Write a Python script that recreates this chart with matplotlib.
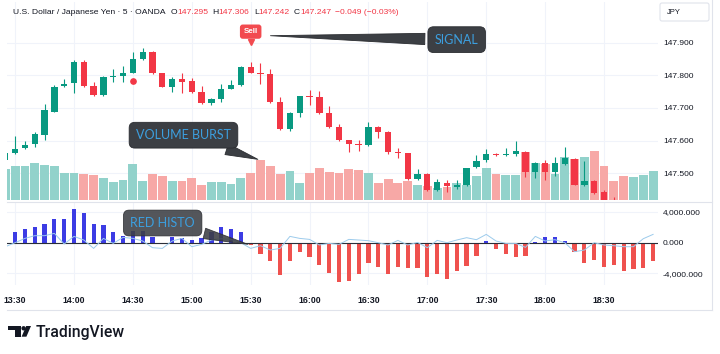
import matplotlib
matplotlib.use('Agg')
import matplotlib.pyplot as plt
import matplotlib.ticker as ticker
import matplotlib.transforms as mtransforms
from matplotlib.lines import Line2D
from matplotlib.patches import Polygon, Circle, FancyBboxPatch
import numpy as np

W, H = 720, 354

# USD/JPY 5-minute candles, first bar 13:25
opens = [147.539, 147.562, 147.576, 147.589, 147.618, 147.688, 147.767, 147.775, 147.840, 147.767,
         147.740, 147.795, 147.799, 147.808, 147.850, 147.871, 147.806, 147.763, 147.788, 147.783,
         147.750, 147.714, 147.727, 147.759, 147.770, 147.825, 147.806, 147.804, 147.717, 147.635,
         147.685, 147.737, 147.733, 147.683, 147.642, 147.601, 147.588, 147.585, 147.642, 147.627,
         147.563, 147.562, 147.481, 147.497, 147.448, 147.471, 147.458, 147.463, 147.518, 147.540,
         147.560, 147.555, 147.558, 147.566, 147.502, 147.532, 147.503, 147.528, 147.543, 147.462,
         147.475, 147.442, 147.400, 147.362, 147.300, 147.318, 147.310]
highs = [147.565, 147.615, 147.599, 147.627, 147.712, 147.770, 147.788, 147.846, 147.846, 147.780,
         147.797, 147.818, 147.829, 147.872, 147.885, 147.875, 147.808, 147.796, 147.806, 147.792,
         147.767, 147.730, 147.773, 147.786, 147.828, 147.842, 147.837, 147.818, 147.734, 147.687,
         147.738, 147.755, 147.752, 147.706, 147.650, 147.603, 147.603, 147.657, 147.645, 147.628,
         147.576, 147.563, 147.512, 147.499, 147.482, 147.478, 147.480, 147.517, 147.556, 147.573,
         147.562, 147.576, 147.598, 147.569, 147.534, 147.540, 147.548, 147.579, 147.546, 147.537,
         147.479, 147.447, 147.428, 147.372, 147.324, 147.330, 147.334]
lows = [147.530, 147.558, 147.573, 147.581, 147.602, 147.687, 147.765, 147.747, 147.765, 147.736,
        147.738, 147.780, 147.780, 147.806, 147.848, 147.804, 147.763, 147.748, 147.745, 147.745,
        147.712, 147.710, 147.718, 147.757, 147.768, 147.806, 147.773, 147.716, 147.632, 147.630,
        147.673, 147.709, 147.681, 147.638, 147.600, 147.564, 147.569, 147.582, 147.609, 147.558,
        147.545, 147.480, 147.479, 147.446, 147.444, 147.441, 147.450, 147.461, 147.515, 147.535,
        147.553, 147.552, 147.554, 147.489, 147.486, 147.479, 147.490, 147.525, 147.462, 147.460,
        147.436, 147.395, 147.355, 147.318, 147.294, 147.296, 147.300]
closes = [147.561, 147.574, 147.585, 147.619, 147.693, 147.765, 147.774, 147.840, 147.767, 147.740,
          147.795, 147.797, 147.808, 147.850, 147.872, 147.806, 147.765, 147.788, 147.779, 147.750,
          147.716, 147.727, 147.759, 147.770, 147.825, 147.808, 147.803, 147.719, 147.635, 147.683,
          147.737, 147.733, 147.683, 147.640, 147.602, 147.589, 147.587, 147.640, 147.627, 147.566,
          147.562, 147.481, 147.496, 147.448, 147.472, 147.461, 147.464, 147.515, 147.538, 147.560,
          147.555, 147.558, 147.568, 147.503, 147.530, 147.503, 147.530, 147.545, 147.464, 147.477,
          147.440, 147.400, 147.362, 147.322, 147.318, 147.325, 147.328]
volume = [3080, 3380, 3380, 3720, 3520, 3450, 2680, 2680, 2620, 2480,
          2250, 1850, 2020, 3620, 1950, 2620, 2420, 1950, 1920, 2220,
          1550, 1780, 1850, 1620, 2250, 2750, 3980, 3450, 2620, 2950,
          1720, 2720, 3250, 2850, 2680, 3150, 3020, 2720, 1720, 2150,
          1750, 1950, 1480, 1450, 1200, 1280, 1750, 1500, 2380, 3180,
          2620, 2550, 2480, 4850, 3680, 3620, 2620, 4350, 4150, 4280,
          4950, 3450, 1950, 2420, 2350, 2550, 2950]
histo = [0, 1430, 1820, 2040, 2430, 3120, 3120, 4340, 3820, 2430,
         2260, 1390, 870, 1520, 1520, 780, -200, 740, 650, 390,
         650, 1350, 2080, 1730, 1390, -300, -1470, -2380, -4160, -2420,
         -1250, -1900, -2940, -3970, -5140, -4970, -4100, -2680, -3200, -4060,
         -3160, -3330, -3330, -4500, -4060, -4750, -3720, -3070, -1730, 200,
         -780, -1500, -1820, -1700, 130, 700, 700, 170, -1170, -2680,
         -2250, -3200, -2940, -3640, -3420, -3250, -2380]
signal = [-520, 0, 560, 910, 910, 1210, -170, 820, 350, -740,
          560, -90, 690, 560, 220, -650, -740, 220, 560, -520,
          -220, 350, 520, 430, 0, -740, -390, -950, -740, 820,
          560, 430, -300, -90, -220, 430, 350, 260, 0, -300,
          300, -300, 40, -650, 300, 0, 350, 650, 390, 1080,
          220, -90, -90, -610, 820, 220, 390, 0, -1170, -950,
          0, -300, -390, -520, -520, 520, 1080]

start_minute = 13 * 60 + 25
sell_idx = 25
burst_idx = 26
dot_idx, dot_price = 13, 147.782
price_ticks = [147.5, 147.6, 147.7, 147.8, 147.9]
histo_ticks = [-4000, 0, 4000]

UP, DOWN = '#089981', '#f23645'
VOL_UP, VOL_DOWN = '#92d2cb', '#f7a8a6'
HIST_UP, HIST_DOWN = '#3c3ce4', '#ef514e'
GRID = '#f0f3fa'
TEXT = '#131722'
BOX = '#3c3f44'
BOX_TEXT = '#3c9fdf'

plt.rcParams['font.family'] = ['Liberation Sans', 'DejaVu Sans']

idx = np.arange(len(closes))
o, h, l, c = map(np.array, (opens, highs, lows, closes))
up = c >= o
minutes = start_minute + 5 * idx
tick_idx = idx[minutes % 30 == 0]
tick_labels = [f'{m // 60}:{m % 60:02d}' for m in minutes[tick_idx]]

fig = plt.figure(figsize=(W / 100, H / 100), dpi=100)
pix = mtransforms.Affine2D().scale(1, -1).translate(0, H)  # pixel coords, origin top-left


def rect(x0, y0, x1, y1):
    return [x0 / W, 1 - y1 / H, (x1 - x0) / W, (y1 - y0) / H]


ax = fig.add_axes(rect(7, 2, 658, 200))
hx = fig.add_axes(rect(7, 203, 658, 285), sharex=ax)
for a in (ax, hx):
    for s in a.spines.values():
        s.set_visible(False)
    a.grid(True, color=GRID, lw=0.8)
    a.set_axisbelow(True)
    a.yaxis.tick_right()
    a.tick_params(length=0, labelsize=6, labelcolor=TEXT, pad=3.6)

ax.set_xlim(0.174, 66.5)
ax.set_ylim(147.4175, 148.025)
ax.set_yticks(price_ticks)
ax.yaxis.set_major_formatter(ticker.FormatStrFormatter('%.3f'))
ax.tick_params(labelbottom=False)

# volume overlay at the bottom of the price pane
vol_top = max(volume) * 4.0
vol_trans = mtransforms.blended_transform_factory(
    ax.transData, mtransforms.Affine2D().scale(1, 1 / vol_top) + ax.transAxes)
ax.bar(idx, volume, width=0.9, color=np.where(up, VOL_UP, VOL_DOWN), transform=vol_trans, zorder=1)

# candles
colors = np.where(up, UP, DOWN)
ax.vlines(idx, l, h, colors=colors, lw=0.8, zorder=2)
ax.bar(idx, np.maximum(np.abs(c - o), 0.003), bottom=np.minimum(o, c), width=0.64, color=colors, zorder=3)
ax.plot(dot_idx, dot_price, 'o', ms=3.8, color=DOWN, zorder=4)

# sell label
sell_y = h[sell_idx]
ax.annotate('Sell', xy=(sell_idx, sell_y), xytext=(0, 30), textcoords='offset pixels',
            ha='center', va='center', fontsize=5.8, fontweight='bold', color='white',
            bbox=dict(boxstyle='round,pad=0.45,rounding_size=0.35', fc='#f24a4f', ec='none'),
            zorder=6, annotation_clip=False)
ax.plot(sell_idx, sell_y, marker='v', ms=4, color='#f24a4f', clip_on=False, zorder=6,
        transform=mtransforms.offset_copy(ax.transData, fig=fig, x=0, y=20, units='dots'))

# histogram pane
hx.set_ylim(-5494, 5156)
hx.set_yticks(histo_ticks)
hx.yaxis.set_major_formatter(ticker.FuncFormatter(lambda v, p: f'{v:,.3f}'))
hist = np.array(histo)
hx.bar(idx, hist, width=0.43, color=np.where(hist >= 0, HIST_UP, HIST_DOWN), zorder=2)
hx.axhline(0, color='#2a2e39', lw=0.8, zorder=2.5)
hx.plot(idx, signal, color='#9ccbec', lw=0.7, zorder=3)
hx.set_xticks(tick_idx, tick_labels)
hx.tick_params(axis='x', labelsize=6.3, pad=8)
for t in hx.get_xticklabels():
    t.set_fontweight('bold')


def callout(a, text, xy, xycoords, offset, tail, alpha=1.0):
    a.annotate(text, xy=xy, xycoords=xycoords, xytext=offset, textcoords='offset pixels',
               ha='center', va='center', fontsize=9, family='Lato', color=BOX_TEXT,
               bbox=dict(boxstyle='round,pad=0.55,rounding_size=0.45', fc=BOX, ec='#2a2c30', lw=0.6, alpha=alpha),
               arrowprops=dict(arrowstyle=f'wedge,tail_width={tail}', fc=BOX, ec='#2a2c30', lw=0.6, alpha=alpha),
               annotation_clip=False, zorder=10)


callout(ax, 'SIGNAL', (sell_idx, sell_y),
        mtransforms.offset_copy(ax.transData, fig=fig, x=17, y=26, units='dots'), (189, -4), 0.9)
callout(ax, 'VOLUME BURST', (burst_idx, volume[burst_idx]), vol_trans, (-77, 25), 0.9)
callout(hx, 'RED HISTO', (sell_idx, histo[sell_idx]), 'data', (-88, 22), 0.85, alpha=0.88)

# header line
r = fig.canvas.get_renderer()


def chain(x, y, parts, size=6.1):
    for s, col in parts:
        t = fig.text(x, y, s, transform=pix, color=col, fontsize=size, va='center', ha='left')
        x += t.get_window_extent(r).width


chain(13, 12, [('U.S. Dollar / Japanese Yen · 5 · OANDA', TEXT)])
chain(170.5, 12, [('O', TEXT), ('147.295', DOWN)])
chain(212, 12, [('H', TEXT), ('147.306', DOWN)])
chain(254, 12, [('L', TEXT), ('147.242', DOWN)])
chain(294, 12, [('C', TEXT), ('147.247', DOWN)])
chain(335, 12, [('\u22120.049 (\u22120.03%)', DOWN)])

# currency box
fig.add_artist(FancyBboxPatch((660, 3), 49, 18, boxstyle='round,pad=0,rounding_size=2',
                              transform=pix, fc='white', ec='#e0e3eb', lw=0.8))
fig.text(667, 12.5, 'JPY', transform=pix, fontsize=5.5, color=TEXT, va='center')

# frame lines
for xs, ys in [((7, 712), (201.5, 201.5)), ((7, 712), (310, 310)), ((711.5, 711.5), (0, 310))]:
    fig.add_artist(Line2D(xs, ys, transform=pix, color='#e0e3eb', lw=0.8))

# TradingView logo
fig.add_artist(Polygon([(8.3, 326), (20.7, 326), (20.7, 336.7), (14.5, 336.7), (14.5, 330.3), (8.3, 330.3)],
                       transform=pix, fc=TEXT, ec='none'))
fig.add_artist(Circle((23.6, 328.3), 2.2, transform=pix, fc=TEXT, ec='none'))
fig.add_artist(Polygon([(26.2, 326), (31, 326), (26.4, 336.7), (21.6, 336.7)], transform=pix, fc=TEXT, ec='none'))
fig.text(36, 332, 'TradingView', transform=pix, fontsize=11.3, family='Roboto', fontweight='medium',
         color=TEXT, va='center')

fig.savefig('out.png', dpi=100)
